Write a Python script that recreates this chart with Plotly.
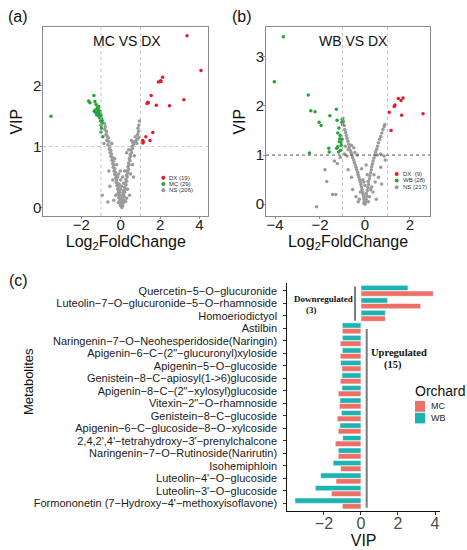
import plotly.graph_objects as go

# ---------------- data: panel (a) MC VS DX ----------------
a_dx_x = [3.37, 4.08, 2.13, 2.03, 1.92, 1.55, 1.40, 1.34, 1.81, 2.48, 3.21, 1.63, 1.28, 1.49, 1.12, 1.13, 1.38, 2.05, 1.15]
a_dx_y = [2.82, 2.25, 2.14, 2.08, 2.06, 1.84, 1.72, 1.71, 1.68, 1.67, 1.77, 1.23, 1.16, 1.10, 1.10, 1.06, 1.73, 2.07, 1.08]

a_mc_x = [-3.54, -1.36, -1.63, -1.56, -1.31, -1.12, -1.19, -1.34, -1.28, -1.15, -1.08, -1.02, -1.00, -1.10, -0.98,
          -1.02, -0.95, -1.00, -1.00, -0.91, -1.18, -1.25, -1.05, -1.22, -0.94, -1.06, -1.30, -0.97, -1.14]
a_mc_y = [1.50, 1.84, 1.75, 1.72, 1.74, 1.66, 1.64, 1.58, 1.56, 1.56, 1.53, 1.54, 1.51, 1.50, 1.46,
          1.42, 1.39, 1.35, 1.24, 1.16, 1.61, 1.69, 1.58, 1.52, 1.43, 1.47, 1.60, 1.30, 1.62]

a_ns_points = [
    (-0.82, 1.38), (-0.78, 1.33), (-0.80, 1.28), (-0.72, 1.25), (-0.75, 1.20), (-0.68, 1.17), (-0.62, 1.14),
    (-0.70, 1.10), (-0.60, 1.08), (-0.65, 1.03), (-0.55, 1.00), (-0.58, 0.96), (-0.50, 0.94), (-0.54, 0.90),
    (-0.46, 0.88), (-0.50, 0.84), (-0.42, 0.82), (-0.45, 0.78), (-0.38, 0.76), (-0.41, 0.72), (-0.35, 0.70),
    (-0.38, 0.66), (-0.30, 0.64), (-0.34, 0.60), (-0.27, 0.58), (-0.30, 0.54), (-0.22, 0.52), (-0.26, 0.48),
    (-0.20, 0.45), (-0.23, 0.41), (-0.16, 0.40), (-0.19, 0.36), (-0.12, 0.34), (-0.15, 0.30), (-0.10, 0.27),
    (-0.13, 0.23), (-0.07, 0.20), (-0.10, 0.16), (-0.04, 0.14), (-0.06, 0.10), (0.00, 0.08), (-0.02, 0.04),
    (0.03, 0.02), (0.06, 0.00), (0.10, 0.03),
    (0.12, 0.07), (0.08, 0.10), (0.15, 0.12), (0.10, 0.15), (0.18, 0.18), (0.14, 0.21), (0.20, 0.25),
    (0.16, 0.28), (0.24, 0.30), (0.20, 0.33), (0.27, 0.37), (0.23, 0.40), (0.30, 0.43), (0.26, 0.46),
    (0.33, 0.50), (0.30, 0.53), (0.36, 0.57), (0.33, 0.60), (0.40, 0.63), (0.37, 0.67), (0.43, 0.70),
    (0.40, 0.73), (0.47, 0.77), (0.44, 0.80), (0.50, 0.84), (0.48, 0.87), (0.55, 0.90), (0.52, 0.94),
    (0.60, 0.97), (0.57, 1.00), (0.65, 1.03), (0.62, 1.06), (0.70, 1.08), (0.78, 1.10), (0.85, 1.12),
    (0.92, 1.15), (0.86, 1.20), (0.90, 1.25), (0.88, 1.30), (0.92, 1.35), (0.95, 1.42), (0.82, 1.05),
    (0.74, 1.16),
    (-0.94, 0.20), (-0.65, 0.09), (-0.55, 0.35), (-0.40, 0.45), (-0.30, 0.80), (-0.20, 0.70), (-0.10, 0.55),
    (0.00, 0.45), (0.05, 0.35), (-0.05, 0.25), (0.10, 0.50), (0.20, 0.60), (0.35, 0.30), (0.50, 0.55),
    (0.60, 0.70), (0.70, 0.85), (0.45, 0.20), (0.30, 0.15), (0.15, 0.40), (-0.25, 0.20), (-0.35, 0.12),
    (0.00, 0.30), (-0.15, 0.50), (0.25, 0.10), (0.05, 0.15), (-0.08, 0.38), (0.40, 0.95), (0.55, 1.10),
    (0.30, 0.90), (-0.45, 1.05), (-0.60, 0.60), (-0.85, 1.05), (0.65, 0.50), (-0.02, 0.60), (0.12, 0.25),
    (0.02, 0.20), (0.08, 0.05), (-0.12, 0.08),
]

# ---------------- data: panel (b) WB VS DX ----------------
b_dx_x = [1.48, 1.60, 1.69, 1.33, 1.30, 1.08, 1.63, 2.58, 1.16]
b_dx_y = [2.15, 2.11, 2.16, 2.02, 1.99, 1.87, 1.81, 1.84, 1.50]

b_wb_x = [-3.63, -4.03, -2.52, -2.41, -2.22, -1.27, -1.56, -1.24, -2.04, -1.95, -1.01, -1.03, -1.00, -1.16,
          -1.21, -1.10, -1.12, -1.14, -1.04, -1.02, -1.61, -1.59, -2.47, -1.26, -1.21, -1.17, -1.06, -1.08]
b_wb_y = [3.41, 2.49, 2.22, 1.90, 1.88, 1.93, 1.80, 1.71, 1.67, 1.60, 1.73, 1.67, 1.62, 1.55,
          1.45, 1.40, 1.33, 1.27, 1.25, 1.32, 1.14, 1.06, 1.04, 1.14, 1.17, 1.06, 1.20, 1.10]

b_ns_points = [
    (-0.98, 1.75), (-0.95, 1.68), (-0.92, 1.60), (-0.90, 1.52), (-0.86, 1.46), (-0.83, 1.40), (-0.80, 1.34),
    (-0.76, 1.28), (-0.72, 1.22), (-0.70, 1.16), (-0.66, 1.10), (-0.62, 1.05), (-0.58, 1.00), (-0.55, 0.95),
    (-0.50, 0.90), (-0.47, 0.85), (-0.43, 0.80), (-0.40, 0.75), (-0.37, 0.70), (-0.33, 0.65), (-0.30, 0.60),
    (-0.27, 0.55), (-0.24, 0.50), (-0.21, 0.45), (-0.18, 0.40), (-0.16, 0.35), (-0.13, 0.30), (-0.10, 0.25),
    (-0.08, 0.20), (-0.06, 0.15), (-0.04, 0.10), (-0.02, 0.06), (-0.05, 0.02), (0.00, 0.00), (-0.88, 1.18),
    (-0.75, 1.12), (-0.60, 1.20), (-0.50, 1.15), (-0.45, 1.05), (-0.92, 1.02), (-0.80, 0.98), (-0.35, 1.00),
    (0.03, 0.04), (0.05, 0.10), (0.08, 0.16), (0.06, 0.22), (0.10, 0.28), (0.13, 0.34), (0.16, 0.40),
    (0.14, 0.46), (0.20, 0.52), (0.22, 0.58), (0.25, 0.64), (0.28, 0.70), (0.30, 0.76), (0.33, 0.82),
    (0.36, 0.88), (0.40, 0.94), (0.43, 1.00), (0.47, 1.06), (0.52, 1.12), (0.56, 1.18), (0.60, 1.25),
    (0.65, 1.32), (0.70, 1.38), (0.75, 1.45), (0.80, 1.52), (0.85, 1.58), (0.88, 1.62), (0.55, 1.00),
    (0.70, 1.02), (0.85, 0.98),
    (-2.15, -0.05), (-1.78, 0.70), (-1.70, 0.46), (-1.44, 0.20), (-1.30, 0.20), (-1.23, 0.83), (-1.36, 0.88),
    (-1.10, 0.95), (-0.55, 0.30), (-0.40, 0.15), (-0.30, 0.05), (-0.20, 0.25), (-0.10, 0.50), (0.00, 0.38),
    (0.10, 0.60), (0.20, 0.15), (0.35, 0.25), (0.50, 0.10), (0.74, 0.41), (0.60, 0.55), (0.70, 0.75),
    (0.45, 0.45), (-0.60, 0.55), (-0.75, 0.70), (-0.15, 0.72), (0.05, 0.80), (0.30, 0.35), (0.15, 0.05),
    (-0.05, 0.45), (0.25, 0.30), (-0.25, 0.10), (0.40, 0.60), (0.90, 0.90),
]

# ---------------- data: panel (c) VIP bars ----------------
metabolites = [
    "Quercetin−5−O−glucuronide",
    "Luteolin−7−O−glucuronide−5−O−rhamnoside",
    "Homoeriodictyol",
    "Astilbin",
    "Naringenin−7−O−Neohesperidoside(Naringin)",
    "Apigenin−6−C−(2\"−glucuronyl)xyloside",
    "Apigenin−5−O−glucoside",
    "Genistein−8−C−apiosyl(1->6)glucoside",
    "Apigenin−8−C−(2\"−xylosyl)glucoside",
    "Vitexin−2\"−O−rhamnoside",
    "Genistein−8−C−glucoside",
    "Apigenin−6−C−glucoside−8−O−xylcoside",
    "2,4,2',4'−tetrahydroxy−3'−prenylchalcone",
    "Naringenin−7−O−Rutinoside(Narirutin)",
    "Isohemiphloin",
    "Luteolin−4'−O−glucoside",
    "Luteolin−3'−O−glucoside",
    "Formononetin (7−Hydroxy−4'−methoxyisoflavone)",
]
wb_vip = [2.54, 1.44, 1.32, -1.01, -1.01, -1.01, -1.10, -1.03, -1.03, -1.14, -1.06, -1.14, -0.99, -1.23, -1.51, -2.18, -2.47, -3.57]
mc_vip = [3.91, 3.23, 1.32, -1.01, -1.12, -1.12, -1.03, -1.12, -1.23, -1.17, -1.28, -1.23, -1.39, -1.23, -1.10, -1.35, -1.60, -1.01]

# ---------------- styling ----------------
W, H = 467, 550
FONT = "Liberation Sans"
RED, GREEN, GREY = "#e8192c", "#25a33b", "#9b9b9b"
MC_COL, WB_COL = "#ee6f66", "#1cb3b1"
FRAME = "#8c8c8c"


def px(x):
    return x / W


def py(y):
    return 1 - y / H


fig = go.Figure()


def pts(points, i):
    return [p[i] for p in points]


# panel (a)
fig.add_trace(go.Scatter(x=pts(a_ns_points, 0), y=pts(a_ns_points, 1), mode="markers", name="NS (206)",
                         marker=dict(color=GREY, size=3.5), xaxis="x", yaxis="y", showlegend=False))
fig.add_trace(go.Scatter(x=a_mc_x, y=a_mc_y, mode="markers", name="MC (29)",
                         marker=dict(color=GREEN, size=3.5), xaxis="x", yaxis="y", showlegend=False))
fig.add_trace(go.Scatter(x=a_dx_x, y=a_dx_y, mode="markers", name="DX (19)",
                         marker=dict(color=RED, size=3.5), xaxis="x", yaxis="y", showlegend=False))
# panel (b)
fig.add_trace(go.Scatter(x=pts(b_ns_points, 0), y=pts(b_ns_points, 1), mode="markers", name="NS (217)",
                         marker=dict(color=GREY, size=3.5), xaxis="x2", yaxis="y2", showlegend=False))
fig.add_trace(go.Scatter(x=b_wb_x, y=b_wb_y, mode="markers", name="WB (28)",
                         marker=dict(color=GREEN, size=3.5), xaxis="x2", yaxis="y2", showlegend=False))
fig.add_trace(go.Scatter(x=b_dx_x, y=b_dx_y, mode="markers", name="DX (9)",
                         marker=dict(color=RED, size=3.5), xaxis="x2", yaxis="y2", showlegend=False))
# panel (c)
fig.add_trace(go.Bar(x=wb_vip, y=metabolites, orientation="h", name="WB",
                     marker=dict(color=WB_COL, line=dict(color="white", width=0.6)),
                     xaxis="x3", yaxis="y3", showlegend=False))
fig.add_trace(go.Bar(x=mc_vip, y=metabolites, orientation="h", name="MC",
                     marker=dict(color=MC_COL, line=dict(color="white", width=0.6)),
                     xaxis="x3", yaxis="y3", showlegend=False))

volcano_x = dict(showline=True, mirror=True, linecolor=FRAME, linewidth=1, showgrid=False, zeroline=False,
                 ticks="outside", ticklen=2, tickcolor=FRAME, ticklabelstandoff=-7,
                 tickfont=dict(size=15, color="#222"))
volcano_y = dict(showline=True, mirror=True, linecolor=FRAME, linewidth=1, showgrid=False, zeroline=False,
                 ticks="outside", ticklen=2, tickcolor=FRAME, ticklabelstandoff=-4,
                 tickfont=dict(size=15, color="#222"))

fig.update_layout(
    width=W, height=H, margin=dict(l=0, r=0, t=0, b=0),
    paper_bgcolor="white", plot_bgcolor="white",
    font=dict(family=FONT, color="#111"),
    barmode="group", bargap=0.1, bargroupgap=0.04,
    xaxis=dict(domain=[px(43.3), px(208.3)], range=[-3.93, 4.45], tickvals=[-2, 0, 2, 4], anchor="y",
               title=dict(text="Log<sub>2</sub>FoldChange", font=dict(size=16), standoff=0), **volcano_x),
    yaxis=dict(domain=[py(216), py(27.3)], range=[-0.14, 2.96], tickvals=[0, 1, 2], anchor="x",
               title=dict(text="VIP", font=dict(size=16), standoff=6), **volcano_y),
    xaxis2=dict(domain=[px(266), px(430)], range=[-4.4, 2.89], tickvals=[-4, -2, 0, 2], anchor="y2",
                title=dict(text="Log<sub>2</sub>FoldChange", font=dict(size=16), standoff=0), **volcano_x),
    yaxis2=dict(domain=[py(216), py(27.3)], range=[-0.24, 3.6], tickvals=[0, 1, 2, 3], anchor="x2",
                title=dict(text="VIP", font=dict(size=16), standoff=6), **volcano_y),
    xaxis3=dict(domain=[px(287.3), px(440)], range=[-3.98, 4.27], tickvals=[-2, 0, 2, 4], anchor="y3",
                showline=True, linecolor="#111", linewidth=1, showgrid=False, zeroline=False,
                ticks="outside", ticklen=3, tickcolor="#333", ticklabelstandoff=-5,
                tickfont=dict(size=16, color="#4d4d4d"),
                title=dict(text="VIP", font=dict(size=16), standoff=0)),
    yaxis3=dict(domain=[py(511), py(283.3)], type="category", categoryorder="array", categoryarray=metabolites,
                tickmode="array", tickvals=metabolites, ticktext=metabolites,
                range=[17.6, -0.6], anchor="x3", showline=True, linecolor="#111", linewidth=1, showgrid=False,
                ticks="outside", ticklen=3, tickcolor="#333", ticklabelstandoff=4,
                tickfont=dict(size=11, color="#1a1a1a")),
)

shapes = [
    # threshold lines panel (a)
    dict(type="line", xref="x", yref="y domain", x0=-1, x1=-1, y0=0, y1=1, line=dict(color="#c4c4c4", width=1, dash="dot")),
    dict(type="line", xref="x", yref="y domain", x0=1, x1=1, y0=0, y1=1, line=dict(color="#c4c4c4", width=1, dash="dot")),
    dict(type="line", xref="x domain", yref="y", x0=0, x1=1, y0=1, y1=1, line=dict(color="#c4c4c4", width=1, dash="dot")),
    # threshold lines panel (b)
    dict(type="line", xref="x2", yref="y2 domain", x0=-1, x1=-1, y0=0, y1=1, line=dict(color="#c4c4c4", width=1, dash="dot")),
    dict(type="line", xref="x2", yref="y2 domain", x0=1, x1=1, y0=0, y1=1, line=dict(color="#c4c4c4", width=1, dash="dot")),
    dict(type="line", xref="x2 domain", yref="y2", x0=0, x1=1, y0=1, y1=1, line=dict(color="#555", width=1, dash="dot")),
    # group separators panel (c)
    dict(type="line", xref="x3", yref="y3", x0=-0.32, x1=-0.32, y0=-0.35, y1=2.4, line=dict(color="#7a7a7a", width=2)),
    dict(type="line", xref="x3", yref="y3", x0=0.31, x1=0.31, y0=3.05, y1=17.35, line=dict(color="#7a7a7a", width=2)),
]

annotations = [
    dict(text="(a)", x=px(6), y=py(16.7), xref="paper", yref="paper", xanchor="left", yanchor="middle", showarrow=False, font=dict(size=16)),
    dict(text="(b)", x=px(230), y=py(16.7), xref="paper", yref="paper", xanchor="left", yanchor="middle", showarrow=False, font=dict(size=16)),
    dict(text="(c)", x=px(6.7), y=py(280.7), xref="paper", yref="paper", xanchor="left", yanchor="middle", showarrow=False, font=dict(size=16)),
    dict(text="MC VS DX", x=0.505, y=0.927, xref="x domain", yref="y domain", xanchor="center", yanchor="middle", showarrow=False, font=dict(size=14)),
    dict(text="WB VS DX", x=0.532, y=0.927, xref="x2 domain", yref="y2 domain", xanchor="center", yanchor="middle", showarrow=False, font=dict(size=14)),
    dict(text="Metabolites", x=px(28.3), y=py(381.7), xref="paper", yref="paper", xanchor="center", yanchor="middle",
         textangle=-90, showarrow=False, font=dict(size=13)),
    dict(text="<b>Downregulated</b>", x=px(323.3), y=py(299), xref="paper", yref="paper", xanchor="center", yanchor="middle", showarrow=False,
         font=dict(size=9, family="Liberation Serif", color="#111")),
    dict(text="<b>(3)</b>", x=px(311.7), y=py(309.5), xref="paper", yref="paper", xanchor="center", yanchor="middle", showarrow=False,
         font=dict(size=9, family="Liberation Serif", color="#111")),
    dict(text="<b>Upregulated</b>", x=px(399.3), y=py(352.7), xref="paper", yref="paper", xanchor="center", yanchor="middle", showarrow=False,
         font=dict(size=10.5, family="Liberation Serif", color="#111")),
    dict(text="<b>(15)</b>", x=px(393.3), y=py(365), xref="paper", yref="paper", xanchor="center", yanchor="middle", showarrow=False,
         font=dict(size=10.5, family="Liberation Serif", color="#111")),
    dict(text="Orchard", x=px(413), y=py(391), xref="paper", yref="paper", xanchor="left", yanchor="middle", showarrow=False, font=dict(size=14)),
]


# legend keys (manual legends)
def add_key(label, color, cx, cy, tx, size):
    shapes.append(dict(type="circle", xref="paper", yref="paper", x0=px(cx - 2), x1=px(cx + 2), y0=py(cy + 2), y1=py(cy - 2),
                       fillcolor=color, line=dict(width=0)))
    annotations.append(dict(text=label, x=px(tx), y=py(cy), xref="paper", yref="paper", xanchor="left", yanchor="middle",
                            showarrow=False, font=dict(size=size, color="#333")))


add_key("DX (19)", RED, 163.3, 177.7, 167.0, 6)
add_key("MC (29)", GREEN, 163.3, 183.9, 167.0, 6)
add_key("NS (206)", GREY, 163.3, 190.3, 167.0, 6)
add_key("DX  (9)", RED, 396.7, 174.0, 400.5, 6)
add_key("WB (28)", GREEN, 396.7, 180.5, 400.5, 6)
add_key("NS (217)", GREY, 396.7, 187.3, 400.5, 6)

for label, color, y0, y1 in [("MC", MC_COL, 401, 411.8), ("WB", WB_COL, 412.8, 423.4)]:
    shapes.append(dict(type="rect", xref="paper", yref="paper", x0=px(415), x1=px(425), y0=py(y1), y1=py(y0),
                       fillcolor=color, line=dict(width=0)))
    annotations.append(dict(text=label, x=px(429), y=py((y0 + y1) / 2), xref="paper", yref="paper", xanchor="left",
                            yanchor="middle", showarrow=False, font=dict(size=9, color="#222")))

fig.update_layout(shapes=shapes, annotations=annotations)

fig.write_html("out.html", post_script="document.body.style.margin='0';",
               config={"displayModeBar": False})
